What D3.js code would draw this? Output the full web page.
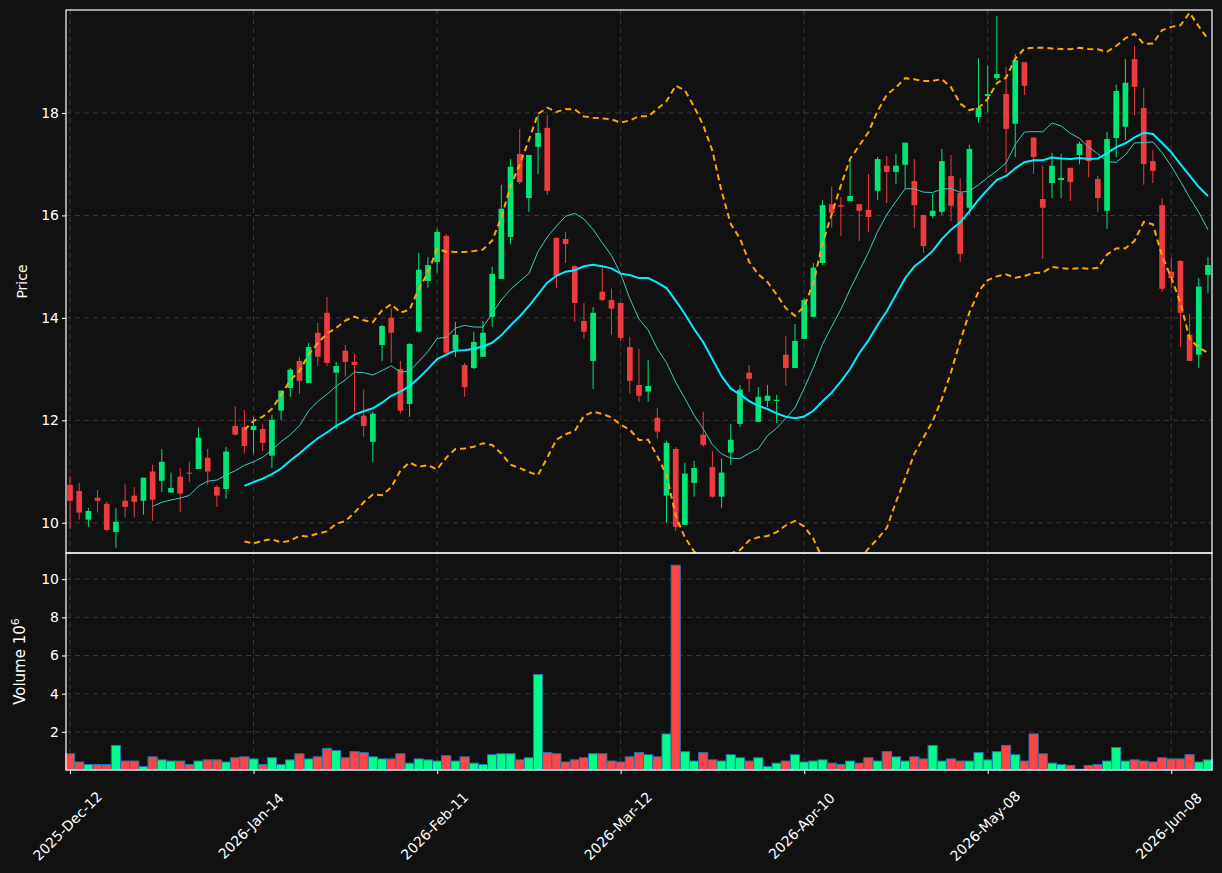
<!DOCTYPE html>
<html>
<head>
<meta charset="utf-8">
<script src="https://cdn.jsdelivr.net/npm/d3@7"></script>
<style>
  body { margin: 0; background: #111111; }
  svg { display: block; }
</style>
</head>
<body>
<svg id="chart"></svg>
<script>
// OHLC + volume (volume in millions), one entry per trading day
const opens  = [10.74,10.62,10.06,10.49,10.37,9.82,10.43,10.53,10.43,11.00,10.82,10.59,10.90,10.98,11.05,11.27,10.70,10.66,11.89,11.87,
  11.81,11.83,11.31,12.19,12.63,13.16,12.73,13.71,14.10,12.93,13.36,13.14,12.09,11.58,13.47,14.00,13.00,12.32,13.73,14.72,
  15.09,15.60,13.38,13.08,13.02,13.24,14.02,14.76,15.58,17.20,16.34,17.34,17.71,15.56,15.54,15.01,13.94,13.16,14.51,14.35,
  14.29,13.43,12.69,12.56,12.05,10.53,11.44,9.96,10.78,11.72,11.09,10.51,11.37,11.93,12.93,11.97,12.38,12.38,13.28,13.02,
  13.59,14.02,15.07,16.22,16.20,16.28,16.22,16.11,16.48,16.97,16.85,16.99,16.67,16.01,15.99,16.07,16.77,16.44,16.15,17.92,
  18.33,18.68,18.37,17.79,18.99,17.52,16.32,16.63,16.69,16.93,17.18,17.47,16.71,16.09,17.51,17.73,19.05,18.10,17.06,16.20,
  14.90,15.11,13.67,13.28,14.84];
const highs  = [10.92,10.78,10.29,10.64,10.41,10.29,10.76,10.70,10.88,11.13,11.44,10.98,11.07,11.19,11.86,11.44,10.74,11.48,12.27,12.20,
  12.07,11.93,12.11,12.58,13.02,13.24,13.51,13.90,14.41,13.14,13.47,13.30,12.60,12.17,13.86,14.19,13.16,13.51,15.27,15.19,
  15.74,15.64,13.92,13.12,13.73,13.94,15.00,16.60,17.10,17.69,17.18,17.96,17.96,15.58,15.68,15.03,14.29,14.21,15.00,14.57,
  14.30,13.63,13.40,13.18,12.24,11.60,11.48,11.17,11.21,12.17,11.40,11.25,11.93,12.69,13.08,12.65,12.69,12.50,13.65,13.88,
  14.39,15.07,16.30,16.56,16.36,17.08,16.22,16.81,17.14,17.16,17.20,17.42,17.10,16.01,16.42,17.30,17.18,16.73,17.38,19.07,
  18.92,19.89,18.90,19.15,18.99,17.53,16.97,17.22,17.20,16.93,17.44,17.47,16.77,17.63,18.55,19.05,19.31,18.49,17.28,16.34,
  15.17,15.13,14.08,14.78,15.19];
const lows   = [9.88,10.06,9.92,10.20,9.83,9.51,10.10,10.10,10.16,10.04,10.60,10.59,10.21,10.80,11.05,10.74,10.31,10.47,11.70,11.35,
  11.35,11.40,11.07,12.00,12.46,12.52,12.73,13.06,13.06,11.83,12.85,12.17,11.68,11.19,13.16,13.12,12.13,12.07,13.71,14.59,
  14.88,13.28,13.24,12.46,13.00,13.24,13.82,14.76,15.44,16.61,16.07,16.81,16.40,14.59,15.07,13.92,13.59,12.61,14.33,13.67,
  13.55,12.52,12.36,12.36,11.64,10.00,9.84,9.96,10.51,11.48,10.49,10.29,11.13,11.87,12.56,11.97,12.26,11.95,12.67,13.02,
  13.59,14.02,15.03,15.76,15.60,16.28,15.50,15.68,16.30,16.24,16.61,16.52,15.76,15.27,15.95,16.01,15.89,15.09,16.01,17.81,
  18.02,18.64,16.83,17.14,18.35,16.81,15.15,16.34,16.34,16.28,17.00,16.75,16.07,15.74,17.14,17.47,17.96,16.60,16.63,14.51,
  14.59,13.43,13.16,13.02,14.49];
const closes = [10.43,10.20,10.23,10.43,9.86,10.02,10.31,10.41,10.88,10.45,11.19,10.68,10.57,10.97,11.66,11.00,10.53,11.39,11.72,11.50,
  11.89,11.56,12.01,12.58,12.99,12.77,13.43,13.24,13.12,13.06,13.14,13.08,11.89,12.13,13.84,13.71,12.19,13.49,14.94,15.03,
  15.68,13.32,13.67,12.65,13.53,13.71,14.86,16.13,16.95,16.65,17.18,17.61,16.48,14.82,15.44,14.29,13.73,14.10,14.35,14.18,
  13.61,12.77,12.48,12.67,11.78,11.56,9.92,10.96,11.07,11.52,10.51,10.98,11.62,12.60,12.81,12.46,12.48,12.40,13.02,13.55,
  14.35,14.98,16.20,16.05,16.17,16.38,16.09,15.97,17.10,16.85,16.97,17.42,16.20,15.40,16.09,17.06,16.19,15.25,17.30,18.10,
  18.37,18.76,17.69,19.03,18.53,17.14,16.15,16.97,16.73,16.65,17.40,17.06,16.34,17.49,18.43,18.59,18.51,17.00,16.87,14.57,
  14.78,14.10,13.16,14.61,15.03];
const volumes = [0.85,0.42,0.29,0.29,0.29,1.29,0.47,0.47,0.18,0.69,0.53,0.47,0.47,0.29,0.47,0.53,0.53,0.42,0.64,0.69,
  0.58,0.29,0.64,0.29,0.53,0.85,0.58,0.69,1.13,1.02,0.64,0.96,0.91,0.69,0.58,0.58,0.85,0.36,0.58,0.53,
  0.47,0.75,0.47,0.69,0.36,0.29,0.80,0.85,0.85,0.53,0.64,5.00,0.91,0.85,0.42,0.53,0.64,0.85,0.85,0.47,
  0.42,0.69,0.91,0.80,0.69,1.89,10.73,0.96,0.47,0.91,0.53,0.47,0.80,0.64,0.47,0.64,0.18,0.36,0.47,0.80,
  0.42,0.47,0.53,0.36,0.29,0.47,0.36,0.64,0.47,0.96,0.69,0.47,0.69,0.58,1.29,0.47,0.58,0.47,0.47,0.91,
  0.53,0.96,1.29,0.80,0.47,1.89,0.85,0.36,0.29,0.24,0.04,0.24,0.29,0.47,1.18,0.47,0.53,0.47,0.42,0.64,
  0.58,0.58,0.80,0.42,0.53];
const tickIdx = [0, 20, 40, 60, 80, 100, 120];
const tickLabels = ["2025-Dec-12","2026-Jan-14","2026-Feb-11","2026-Mar-12","2026-Apr-10","2026-May-08","2026-Jun-08"];
const priceTicks = [10, 12, 14, 16, 18];
const volTicks = [2, 4, 6, 8, 10];

const W = 1222, H = 873;
const L = 66, R = 1212, pTop = 10, pBot = 553, vBot = 770;
const UP = "#00e676", DOWN = "#ee3b3f", VUP = "#00ff88", VDOWN = "#ff4646";

const svg = d3.select("#chart").attr("width", W).attr("height", H);
svg.append("rect").attr("width", W).attr("height", H).attr("fill", "#111111");

const n = closes.length;
const idx = d3.range(n);
const x = d3.scaleLinear().domain([-0.44, n - 0.56]).range([L, R]);
const y = d3.scaleLinear().domain([9.41, 20.01]).range([pBot, pTop]);
const yv = d3.scaleLinear().domain([0, 11.37]).range([vBot, pBot]);
const step = x(1) - x(0);

svg.append("clipPath").attr("id", "pclip").append("rect")
  .attr("x", L).attr("y", pTop).attr("width", R - L).attr("height", pBot - pTop);

// grid
const grid = svg.append("g").attr("stroke", "#3a3a3a").attr("stroke-dasharray", "5,4").attr("stroke-width", 1);
tickIdx.forEach(i => {
  grid.append("line").attr("x1", x(i)).attr("x2", x(i)).attr("y1", pTop).attr("y2", vBot);
});
priceTicks.forEach(v => grid.append("line").attr("x1", L).attr("x2", R).attr("y1", y(v)).attr("y2", y(v)));
volTicks.forEach(v => grid.append("line").attr("x1", L).attr("x2", R).attr("y1", yv(v)).attr("y2", yv(v)));

// moving averages and bollinger bands
function sma(arr, w) {
  return arr.map((_, i) => i < w - 1 ? null : d3.mean(arr.slice(i - w + 1, i + 1)));
}
const ma10 = sma(closes, 10), ma20 = sma(closes, 20);
const sd20 = closes.map((_, i) => i < 19 ? null : d3.deviation(closes.slice(i - 19, i + 1)));
const upper = ma20.map((m, i) => m == null ? null : m + 2 * sd20[i]);
const lower = ma20.map((m, i) => m == null ? null : m - 2 * sd20[i]);

const plot = svg.append("g").attr("clip-path", "url(#pclip)");
const line = arr => d3.line().defined(i => arr[i] != null).x(i => x(i)).y(i => y(arr[i]))(idx);

// candles
const cg = plot.append("g");
idx.forEach(i => {
  const col = closes[i] >= opens[i] ? UP : DOWN;
  cg.append("line").attr("x1", x(i)).attr("x2", x(i)).attr("y1", y(highs[i])).attr("y2", y(lows[i]))
    .attr("stroke", col).attr("stroke-width", 1);
  const top = y(Math.max(opens[i], closes[i])), bot = y(Math.min(opens[i], closes[i]));
  cg.append("rect").attr("x", x(i) - step * 0.31).attr("width", step * 0.62)
    .attr("y", top).attr("height", Math.max(bot - top, 1.2)).attr("fill", col);
});

plot.append("path").attr("d", line(upper)).attr("fill", "none").attr("stroke", "#ffa500")
  .attr("stroke-width", 2).attr("stroke-dasharray", "6,4");
plot.append("path").attr("d", line(lower)).attr("fill", "none").attr("stroke", "#ffa500")
  .attr("stroke-width", 2).attr("stroke-dasharray", "6,4");
plot.append("path").attr("d", line(ma10)).attr("fill", "none").attr("stroke", "#40c8c0").attr("stroke-width", 1);
plot.append("path").attr("d", line(ma20)).attr("fill", "none").attr("stroke", "#00eeff").attr("stroke-width", 2);

// volume
svg.append("g").selectAll("rect").data(idx).join("rect")
  .attr("x", i => x(i) - step * 0.5).attr("width", step)
  .attr("y", i => yv(volumes[i])).attr("height", i => yv(0) - yv(volumes[i]))
  .attr("fill", i => closes[i] >= opens[i] ? VUP : VDOWN)
  .attr("stroke", "#1f77b4").attr("stroke-width", 1);

// frames
const frame = svg.append("g").attr("fill", "none").attr("stroke", "#ffffff").attr("stroke-width", 1.2);
frame.append("rect").attr("x", L).attr("y", pTop).attr("width", R - L).attr("height", pBot - pTop);
frame.append("rect").attr("x", L).attr("y", pBot).attr("width", R - L).attr("height", vBot - pBot);

// axes
const font = "DejaVu Sans, sans-serif";
function styleAxis(g) {
  g.select(".domain").remove();
  g.selectAll(".tick line").attr("stroke", "#ffffff");
  g.selectAll(".tick text").attr("fill", "#ffffff").style("font-family", font).style("font-size", "14px");
}
svg.append("g").attr("transform", `translate(${L},0)`)
  .call(d3.axisLeft(y).tickValues(priceTicks).tickSize(4).tickFormat(d3.format("d"))).call(styleAxis);
svg.append("g").attr("transform", `translate(${L},0)`)
  .call(d3.axisLeft(yv).tickValues(volTicks).tickSize(4).tickFormat(d3.format("d"))).call(styleAxis);
const xa = svg.append("g").attr("transform", `translate(0,${vBot})`)
  .call(d3.axisBottom(x).tickValues(tickIdx).tickSize(4).tickFormat((d, k) => tickLabels[k])).call(styleAxis);
xa.selectAll(".tick text").attr("text-anchor", "middle").attr("y", 0).attr("dy", "0.35em")
  .attr("transform", "translate(-3,56) rotate(-45)");

svg.append("text").attr("transform", `translate(27,${(pTop + pBot) / 2}) rotate(-90)`)
  .attr("text-anchor", "middle").attr("fill", "#fff").style("font-family", font).style("font-size", "14px").text("Price");
const vl = svg.append("text").attr("transform", `translate(25,${(pBot + vBot) / 2}) rotate(-90)`)
  .attr("text-anchor", "middle").attr("fill", "#fff").style("font-family", font).style("font-size", "15px");
vl.append("tspan").text("Volume  10");
vl.append("tspan").attr("dy", -6).style("font-size", "11px").text("6");
</script>
</body>
</html>
